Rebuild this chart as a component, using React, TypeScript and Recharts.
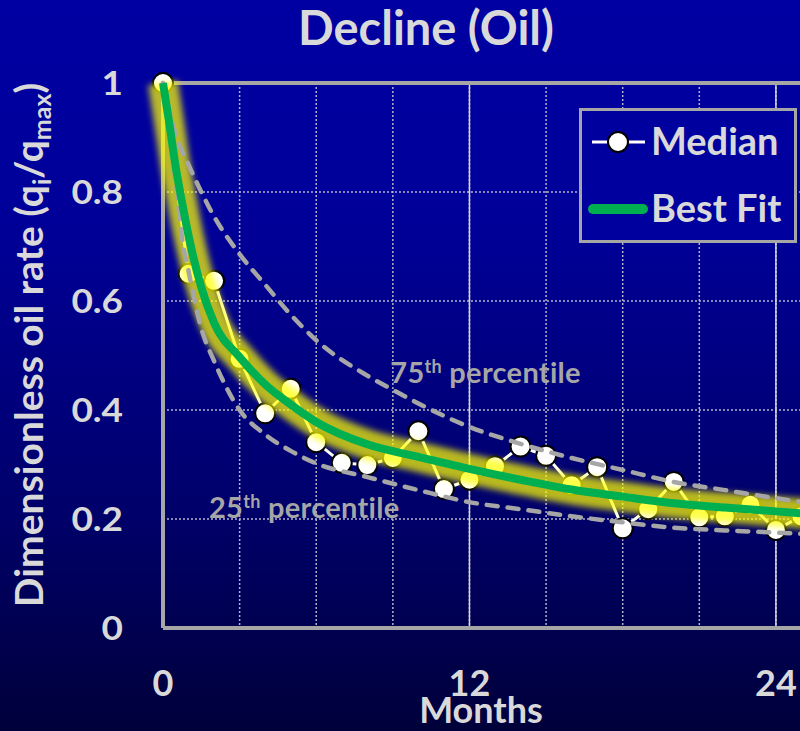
import React from 'react';
import { LineChart, Line, XAxis, YAxis, CartesianGrid, ReferenceLine, ReferenceDot, Legend } from 'recharts';

// ---- data ----
const medianMonths = [0, 1, 2, 3, 4, 5, 6, 7, 8, 9, 10, 11, 12, 13, 14, 15, 16, 17, 18, 19, 20, 21, 22, 23, 24, 25];
const medianValues = [1.0, 0.65, 0.637, 0.494, 0.394, 0.439, 0.341, 0.303, 0.299, 0.312, 0.361, 0.255, 0.272, 0.297, 0.333, 0.316, 0.262, 0.295, 0.183, 0.218, 0.268, 0.203, 0.205, 0.226, 0.18, 0.205];

const fitMonths = [0, 0.25, 0.5, 0.75, 1, 1.5, 2, 3, 4, 5, 6, 8, 10, 12, 14, 16, 18, 20, 22, 24, 26];
const fitValues = [1.0, 0.925, 0.845, 0.78, 0.72, 0.625, 0.56, 0.497, 0.447, 0.41, 0.378, 0.337, 0.314, 0.292, 0.272, 0.254, 0.241, 0.229, 0.221, 0.214, 0.207];

const p75Months = [0, 0.25, 0.5, 1, 1.5, 2, 3, 4, 5, 6, 8, 9, 10, 12, 14, 16, 18, 20, 22, 24, 26];
const p75Values = [1.0, 0.95, 0.905, 0.85, 0.8, 0.755, 0.686, 0.63, 0.575, 0.528, 0.463, 0.437, 0.412, 0.369, 0.338, 0.312, 0.29, 0.268, 0.253, 0.238, 0.225];

const p25Months = [0, 0.1, 0.25, 0.5, 0.75, 1, 1.5, 2, 3, 4, 5, 6, 8, 10, 12, 14, 16, 18, 20, 22, 24, 26];
const p25Values = [1.0, 0.96, 0.91, 0.82, 0.715, 0.655, 0.55, 0.49, 0.4, 0.355, 0.325, 0.302, 0.277, 0.253, 0.231, 0.218, 0.205, 0.194, 0.184, 0.179, 0.175, 0.17];

const xTicks = [0, 3, 6, 9, 12, 15, 18, 21, 24];
const xTickLabels = [0, 12, 24];
const yTicks = [0, 0.2, 0.4, 0.6, 0.8, 1];
const legendNames = ['Median', 'Best Fit'];

const toRows = (ms: number[], vs: number[]) => ms.map((m, i) => ({ m, v: vs[i] }));
const medianData = toRows(medianMonths, medianValues);
const fitData = toRows(fitMonths, fitValues);
const p75Data = toRows(p75Months, p75Values);
const p25Data = toRows(p25Months, p25Values);

const TXT = '#D9D9D9';
const GRAY = '#A6A6A6';
const FONT = 'Lato, "Open Sans", sans-serif';

const XTick = (props: any) => {
  const { x, y, payload } = props;
  if (!xTickLabels.includes(payload.value)) return <g />;
  return (
    <text x={x} y={y + 68} textAnchor="middle" fill={TXT} fontFamily={FONT} fontWeight="bold" fontSize={36}>
      {String(payload.value)}
    </text>
  );
};

const YTick = (props: any) => {
  const { x, y, payload } = props;
  return (
    <text transform={`translate(${x - 40},${y + 12}) scale(1.12,1)`} textAnchor="end" fill={TXT} fontFamily={FONT} fontWeight="bold" fontSize={33}>
      {String(payload.value)}
    </text>
  );
};

const YLabel = () => (
  <text transform="translate(43,345) rotate(-90)" textAnchor="middle" fill={TXT} fontFamily={FONT} fontWeight="bold" fontSize={39}>
    Dimensionless oil rate (q<tspan dy={8} fontSize={25}>i</tspan><tspan dy={-8}>/q</tspan><tspan dy={8} fontSize={25}>max</tspan><tspan dy={-8}>)</tspan>
  </text>
);

const XLabel = () => (
  <text x={481} y={723} textAnchor="middle" fill={TXT} fontFamily={FONT} fontWeight="bold" fontSize={36}>
    Months
  </text>
);

const pctShape = (num: string) => (props: any) => (
  <text x={props.cx} y={props.cy} fill={GRAY} fontFamily={FONT} fontWeight="bold" fontSize={29} letterSpacing={0.3}>
    {num}
    <tspan dy={-10} fontSize={18}>th</tspan>
    <tspan dy={10}> percentile</tspan>
  </text>
);

const LegendBox = (props: any) => {
  const payload = props.payload || [];
  const present = legendNames.filter((n) => payload.some((p: any) => p.value === n));
  return (
    <svg width={218} height={135} style={{ display: 'block' }}>
      <rect x={1.5} y={1.5} width={215} height={132} fill="#00009E" stroke={GRAY} strokeWidth={3} />
      {present.map((name: string, i: number) => {
        const cy = i === 0 ? 34 : 101;
        return (
          <g key={name}>
            {name === 'Median' ? (
              <g>
                <line x1={13} x2={66} y1={cy} y2={cy} stroke="#FFFFFF" strokeWidth={3} />
                <circle cx={39} cy={cy} r={10} fill="#FFFFFF" stroke="#000000" strokeWidth={2} />
              </g>
            ) : (
              <line x1={14} x2={64} y1={cy} y2={cy} stroke="#00B050" strokeWidth={10} strokeLinecap="round" />
            )}
            <text x={72} y={cy + 13} fill={TXT} fontFamily={FONT} fontWeight="bold" fontSize={38}>
              {name}
            </text>
          </g>
        );
      })}
    </svg>
  );
};

export default function App() {
  return (
    <div
      style={{
        position: 'fixed',
        left: 0,
        top: 0,
        width: 800,
        height: 731,
        overflow: 'hidden',
        background: 'linear-gradient(to bottom, #0000A2 0%, #000099 30%, #00006A 70%, #00003A 100%)',
      }}
    >
      <style>{`.glowLine path { filter: url(#glowBlur); }`}</style>
      <div
        style={{
          position: 'absolute',
          left: 0,
          top: -1,
          width: 852,
          textAlign: 'center',
          fontFamily: FONT,
          fontWeight: 'bold',
          fontSize: 47,
          lineHeight: '56px',
          color: TXT,
        }}
      >
        Decline (Oil)
      </div>
      <div style={{ position: 'absolute', left: 0, top: 0 }}>
        <LineChart width={827} height={731} margin={{ top: 83, right: 0, bottom: 0, left: 0 }}>
          <defs>
            <filter id="glowBlur" x="-20%" y="-20%" width="140%" height="140%">
              <feGaussianBlur stdDeviation="3" />
            </filter>
          </defs>
          <CartesianGrid stroke="#B4B4C8" strokeWidth={1.5} strokeDasharray="2 2" />
          <XAxis
            type="number"
            dataKey="m"
            domain={[0, 26]}
            ticks={xTicks}
            height={103}
            tickLine={false}
            tickSize={0}
            tickMargin={0}
            tick={<XTick />}
            axisLine={{ stroke: GRAY, strokeWidth: 4 }}
            label={<XLabel />}
            allowDecimals
          />
          <YAxis
            type="number"
            domain={[0, 1]}
            ticks={yTicks}
            width={163}
            tickLine={false}
            tickSize={0}
            tickMargin={0}
            tick={<YTick />}
            axisLine={{ stroke: GRAY, strokeWidth: 4 }}
            label={<YLabel />}
          />
          <ReferenceLine x={12} stroke={TXT} strokeWidth={1.5} />
          <ReferenceLine x={24} stroke={TXT} strokeWidth={1.5} />
          <ReferenceLine y={1} stroke={GRAY} strokeWidth={4} />
          <ReferenceDot x={8.9} y={0.4495} r={0} ifOverflow="visible" shape={pctShape('75')} />
          <ReferenceDot x={1.8} y={0.2018} r={0} ifOverflow="visible" shape={pctShape('25')} />
          <Line
            data={medianData}
            dataKey="v"
            name="Median"
            type="linear"
            stroke="#FFFFFF"
            strokeWidth={3}
            dot={{ r: 10, fill: '#FFFFFF', stroke: '#000000', strokeWidth: 2 }}
            activeDot={false}
            isAnimationActive={false}
          />
          <Line
            data={fitData}
            dataKey="v"
            name="glow"
            type="monotone"
            stroke="#FFFF00"
            strokeWidth={30}
            strokeOpacity={0.72}
            className="glowLine"
            dot={false}
            activeDot={false}
            legendType="none"
            isAnimationActive={false}
            {...({ zIndex: 700 } as any)}
          />
          <Line
            data={p75Data}
            dataKey="v"
            name="p75"
            type="monotone"
            stroke={GRAY}
            strokeWidth={4.5}
            strokeDasharray="11 10"
            strokeLinecap="round"
            dot={false}
            activeDot={false}
            legendType="none"
            isAnimationActive={false}
            {...({ zIndex: 750 } as any)}
          />
          <Line
            data={p25Data}
            dataKey="v"
            name="p25"
            type="monotone"
            stroke={GRAY}
            strokeWidth={4.5}
            strokeDasharray="11 10"
            strokeLinecap="round"
            dot={false}
            activeDot={false}
            legendType="none"
            isAnimationActive={false}
            {...({ zIndex: 750 } as any)}
          />
          <Line
            data={fitData}
            dataKey="v"
            name="Best Fit"
            type="monotone"
            stroke="#00B050"
            strokeWidth={8}
            dot={false}
            activeDot={false}
            isAnimationActive={false}
            {...({ zIndex: 800 } as any)}
          />
          <Legend
            layout="horizontal"
            verticalAlign="middle"
            align="center"
            content={<LegendBox />}
            wrapperStyle={{ left: 579, top: 108, width: 218, height: 135 }}
          />
        </LineChart>
      </div>
    </div>
  );
}
